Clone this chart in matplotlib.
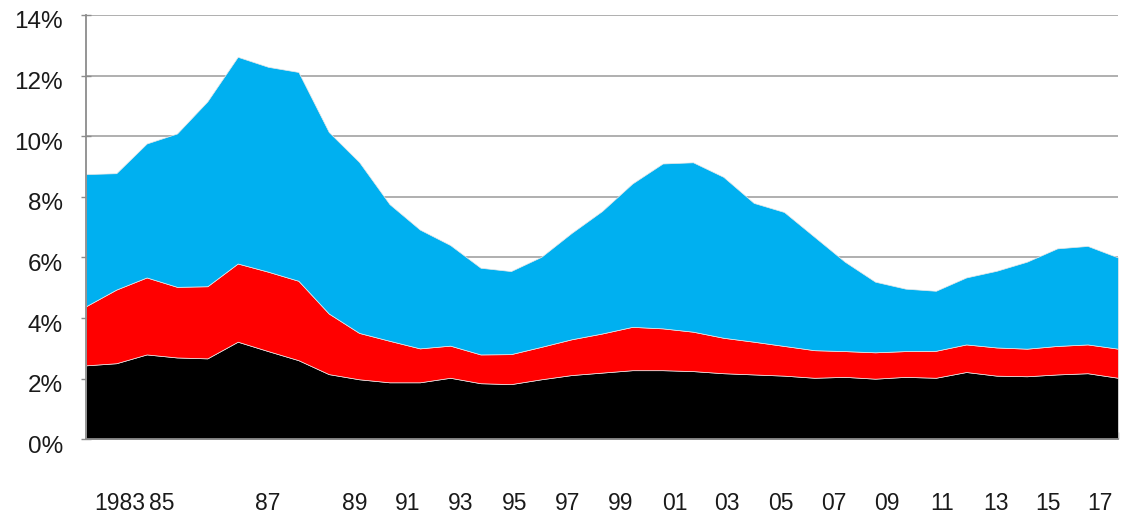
import matplotlib
matplotlib.use('Agg')
import matplotlib.pyplot as plt
from matplotlib.transforms import ScaledTranslation
import numpy as np

plt.rcParams['font.family'] = ['Liberation Sans', 'DejaVu Sans']

# years 1983..2017
years = list(range(1983, 2018))

# stacked components, % of total
black = [2.44, 2.51, 2.80, 2.70, 2.67, 3.22, 2.91, 2.61, 2.15, 1.98,
         1.88, 1.88, 2.03, 1.85, 1.82, 1.98, 2.12, 2.20, 2.28, 2.28,
         2.25, 2.18, 2.14, 2.10, 2.03, 2.06, 2.00, 2.06, 2.03, 2.22,
         2.10, 2.08, 2.14, 2.18, 2.03]
red = [1.95, 2.43, 2.54, 2.33, 2.38, 2.58, 2.62, 2.62, 2.00, 1.53,
       1.37, 1.12, 1.06, 0.95, 0.99, 1.07, 1.18, 1.29, 1.43, 1.38,
       1.30, 1.17, 1.08, 0.98, 0.91, 0.85, 0.87, 0.85, 0.89, 0.91,
       0.93, 0.91, 0.94, 0.95, 0.96]
blue = [4.36, 3.84, 4.42, 5.06, 6.10, 6.82, 6.76, 6.89, 5.99, 5.64,
        4.51, 3.92, 3.32, 2.86, 2.74, 2.97, 3.51, 4.04, 4.73, 5.44,
        5.59, 5.31, 4.58, 4.42, 3.74, 2.95, 2.33, 2.06, 1.98, 2.21,
        2.53, 2.87, 3.22, 3.25, 3.01]

# x labels as printed under the axis (not aligned with the ticks in the original)
xlabels = ['1983', '85', '87', '89', '91', '93', '95', '97', '99',
           '01', '03', '05', '07', '09', '11', '13', '15', '17']
xlabel_pos = [1.12, 2.51, 6.0, 8.84, 10.59, 12.34, 14.12, 15.86, 17.61,
              19.4, 21.1, 22.9, 24.64, 26.4, 28.2, 29.98, 31.7, 33.4]

yticks = [0, 2, 4, 6, 8, 10, 12, 14]

fig = plt.figure(figsize=(11.22, 5.17), dpi=100)
ax = fig.add_axes([0.0766, 0.1503, 0.9198, 0.8207])

x = np.arange(len(years))
ax.stackplot(x, black, red, blue, colors=['#000000', '#FF0000', '#00B0F0'],
             edgecolor='#e8e8e8', linewidth=0.5, zorder=2)

for v in yticks[1:]:
    ax.axhline(v, color='#9a9a9a', lw=1.1, zorder=0)

ax.set_xlim(0, len(years) - 1)
ax.set_ylim(0, 14)
ax.set_yticks(yticks)
ax.set_yticklabels([f'{v}%' for v in yticks], fontsize=17.5, color='#1a1a1a')
ax.set_xticks(x)
ax.set_xticklabels([])

for s in ['top', 'right']:
    ax.spines[s].set_visible(False)
for s in ['left', 'bottom']:
    ax.spines[s].set_color('#8c8c8c')
    ax.spines[s].set_linewidth(1.3)
    ax.spines[s].set_zorder(3)

ax.tick_params(axis='x', direction='in', length=5, width=1, color='#8c8c8c')
ax.tick_params(axis='y', direction='inout', length=7, width=1, color='#8c8c8c', pad=13)

off = ScaledTranslation(0, -0.05, fig.dpi_scale_trans)
for lab in ax.get_yticklabels():
    lab.set_transform(lab.get_transform() + off)

trans = ax.get_xaxis_transform()
for p, t in zip(xlabel_pos, xlabels):
    ax.text(p, -0.152, t, transform=trans, ha='center', va='center',
            fontsize=16.5, color='#1a1a1a')

fig.savefig('out.png', dpi=100)
